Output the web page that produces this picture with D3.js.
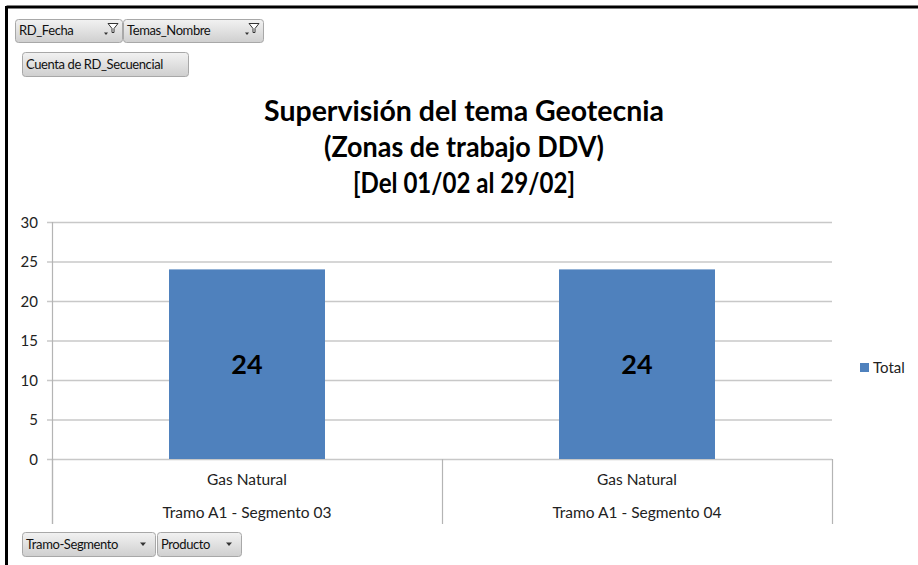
<!DOCTYPE html>
<html><head><meta charset="utf-8">
<script src="https://cdn.jsdelivr.net/npm/d3@7/dist/d3.min.js"></script>
<style>
html,body{margin:0;padding:0;background:#fff;}
svg{display:block;}
text{font-family:Lato,"Open Sans",sans-serif;}
</style></head><body>
<svg id="c" width="918" height="565"></svg>
<script>
const titleLines = ["Supervisión del tema Geotecnia", "(Zonas de trabajo DDV)", "[Del 01/02 al 29/02]"];
const products = ["Gas Natural", "Gas Natural"];
const segments = ["Tramo A1 - Segmento 03", "Tramo A1 - Segmento 04"];
const values = [24, 24];
const yTicks = [0, 5, 10, 15, 20, 25, 30];
const seriesName = "Total";
const topButtons = ["RD_Fecha", "Temas_Nombre"];
const valueButton = "Cuenta de RD_Secuencial";
const bottomButtons = ["Tramo-Segmento", "Producto"];

const svg = d3.select("#c");
const defs = svg.append("defs");
const g = defs.append("linearGradient").attr("id","btn").attr("x1",0).attr("y1",0).attr("x2",0).attr("y2",1);
g.append("stop").attr("offset","0%").attr("stop-color","#f2f2f2");
g.append("stop").attr("offset","100%").attr("stop-color","#cfcfcf");

// frame
svg.append("line").attr("x1",6.5).attr("x2",918).attr("y1",7).attr("y2",7).attr("stroke","#000").attr("stroke-width",3);
svg.append("line").attr("x1",6.5).attr("x2",6.5).attr("y1",6).attr("y2",565).attr("stroke","#000").attr("stroke-width",3);

const cats = segments.map((s,i)=>s+"|"+i);
const x = d3.scaleBand().domain(cats).range([52, 832]).paddingInner(0).paddingOuter(0);
const y = d3.scaleLinear().domain([0, 30]).range([459, 222]);

// gridlines
svg.append("g").selectAll("line").data(yTicks).join("line")
  .attr("x1", 47).attr("x2", 832)
  .attr("y1", d=>y(d)+0.5).attr("y2", d=>y(d)+0.5)
  .attr("stroke", "#c8c8c8").attr("stroke-width", 1.5);

// y axis labels
const yAxis = d3.axisLeft(y).tickValues(yTicks).tickSize(0).tickPadding(0);
const ya = svg.append("g").attr("transform","translate(38,0)").call(yAxis);
ya.select(".domain").remove();
ya.selectAll("text").attr("font-size",15).attr("fill","#222").attr("font-family","Lato,sans-serif").attr("dy","0.34em");

// y axis line
svg.append("line").attr("x1",52.5).attr("x2",52.5).attr("y1",y(30)).attr("y2",524).attr("stroke","#b4b4b4").attr("stroke-width",1.2);

// category dividers
const bounds = [x.range()[0], ...cats.slice(1).map(c=>x(c)), x.range()[1]];
svg.append("g").selectAll("line").data(bounds).join("line")
  .attr("x1", d=>d+0.5).attr("x2", d=>d+0.5).attr("y1", y(0)).attr("y2", 524)
  .attr("stroke","#b4b4b4").attr("stroke-width",1.2);

// bars
const bw = x.bandwidth()*0.4;
svg.append("g").selectAll("rect").data(values).join("rect")
  .attr("x", (d,i)=>x(cats[i]) + (x.bandwidth()-bw)/2)
  .attr("y", d=>y(d))
  .attr("width", bw)
  .attr("height", d=>y(0)-y(d))
  .attr("fill", "#4f81bd");

// data labels
svg.append("g").selectAll("text").data(values).join("text")
  .attr("x", (d,i)=>x(cats[i]) + x.bandwidth()/2)
  .attr("y", d=>(y(d)+y(0))/2 + 10)
  .attr("text-anchor","middle").attr("font-weight","bold").attr("font-size",27).attr("fill","#000")
  .text(d=>d);

// category labels
svg.append("g").selectAll("text").data(products).join("text")
  .attr("x",(d,i)=>x(cats[i]) + x.bandwidth()/2).attr("y",485)
  .attr("text-anchor","middle").attr("font-size",15.5).attr("fill","#222").text(d=>d);
svg.append("g").selectAll("text").data(segments).join("text")
  .attr("x",(d,i)=>x(cats[i]) + x.bandwidth()/2).attr("y",518)
  .attr("text-anchor","middle").attr("font-size",15.5).attr("fill","#222").text(d=>d);

// title
const tBaselines = [121, 157, 193];
const tWidths = [400, 280, 222];
const tt = svg.append("g").selectAll("text").data(titleLines).join("text")
  .attr("x", 464).attr("y",(d,i)=>tBaselines[i])
  .attr("text-anchor","middle").attr("font-weight","bold").attr("font-size",28).attr("fill","#000")
  .text(d=>d);
const w1 = tt.nodes()[0].getComputedTextLength();
const fs = 28 * 400 / w1;
tt.attr("font-size", fs);
tt.each(function(d,i){
  if (i > 0 && this.getComputedTextLength() > tWidths[i]) {
    this.setAttribute("textLength", tWidths[i]);
    this.setAttribute("lengthAdjust","spacingAndGlyphs");
  }
});

// legend
svg.append("rect").attr("x",860).attr("y",363).attr("width",9).attr("height",9).attr("fill","#4f81bd");
svg.append("text").attr("x",873).attr("y",373).attr("font-size",15).attr("fill","#222").text(seriesName);

// buttons
function button(x0, y0, w, h, label, icon){
  const b = svg.append("g");
  b.append("rect").attr("x",x0+0.5).attr("y",y0+0.5).attr("width",w).attr("height",h).attr("rx",3)
    .attr("fill","url(#btn)").attr("stroke","#a8a8a8");
  b.append("text").attr("x",x0+4).attr("y",y0+h/2+4.5).attr("font-size",13).attr("fill","#111")
    .attr("font-family","'Open Sans',sans-serif").attr("letter-spacing",-0.4).text(label);
  const ix = x0 + w - 18, iy = y0 + h/2;
  if(icon==="filter"){
    b.append("path").attr("d",`M${ix} ${iy+2} l4 0 l-2 2.5 z`).attr("fill","#333");
    b.append("path").attr("d",`M${ix+4} ${iy-7} l10 0 l-4 5 l0 4 l-2 0 l0 -4 z`).attr("fill","#fff").attr("stroke","#333").attr("stroke-width",1);
  } else if(icon==="drop"){
    b.append("path").attr("d",`M${ix+3} ${iy-1.5} l6 0 l-3 3.5 z`).attr("fill","#333");
  }
}
button(15, 19, 107, 23, topButtons[0], "filter");
button(123, 19, 140, 23, topButtons[1], "filter");
button(22, 52, 166, 24, valueButton, null);
button(22, 532, 133, 24, bottomButtons[0], "drop");
button(157, 532, 84, 24, bottomButtons[1], "drop");
</script>
</body></html>
